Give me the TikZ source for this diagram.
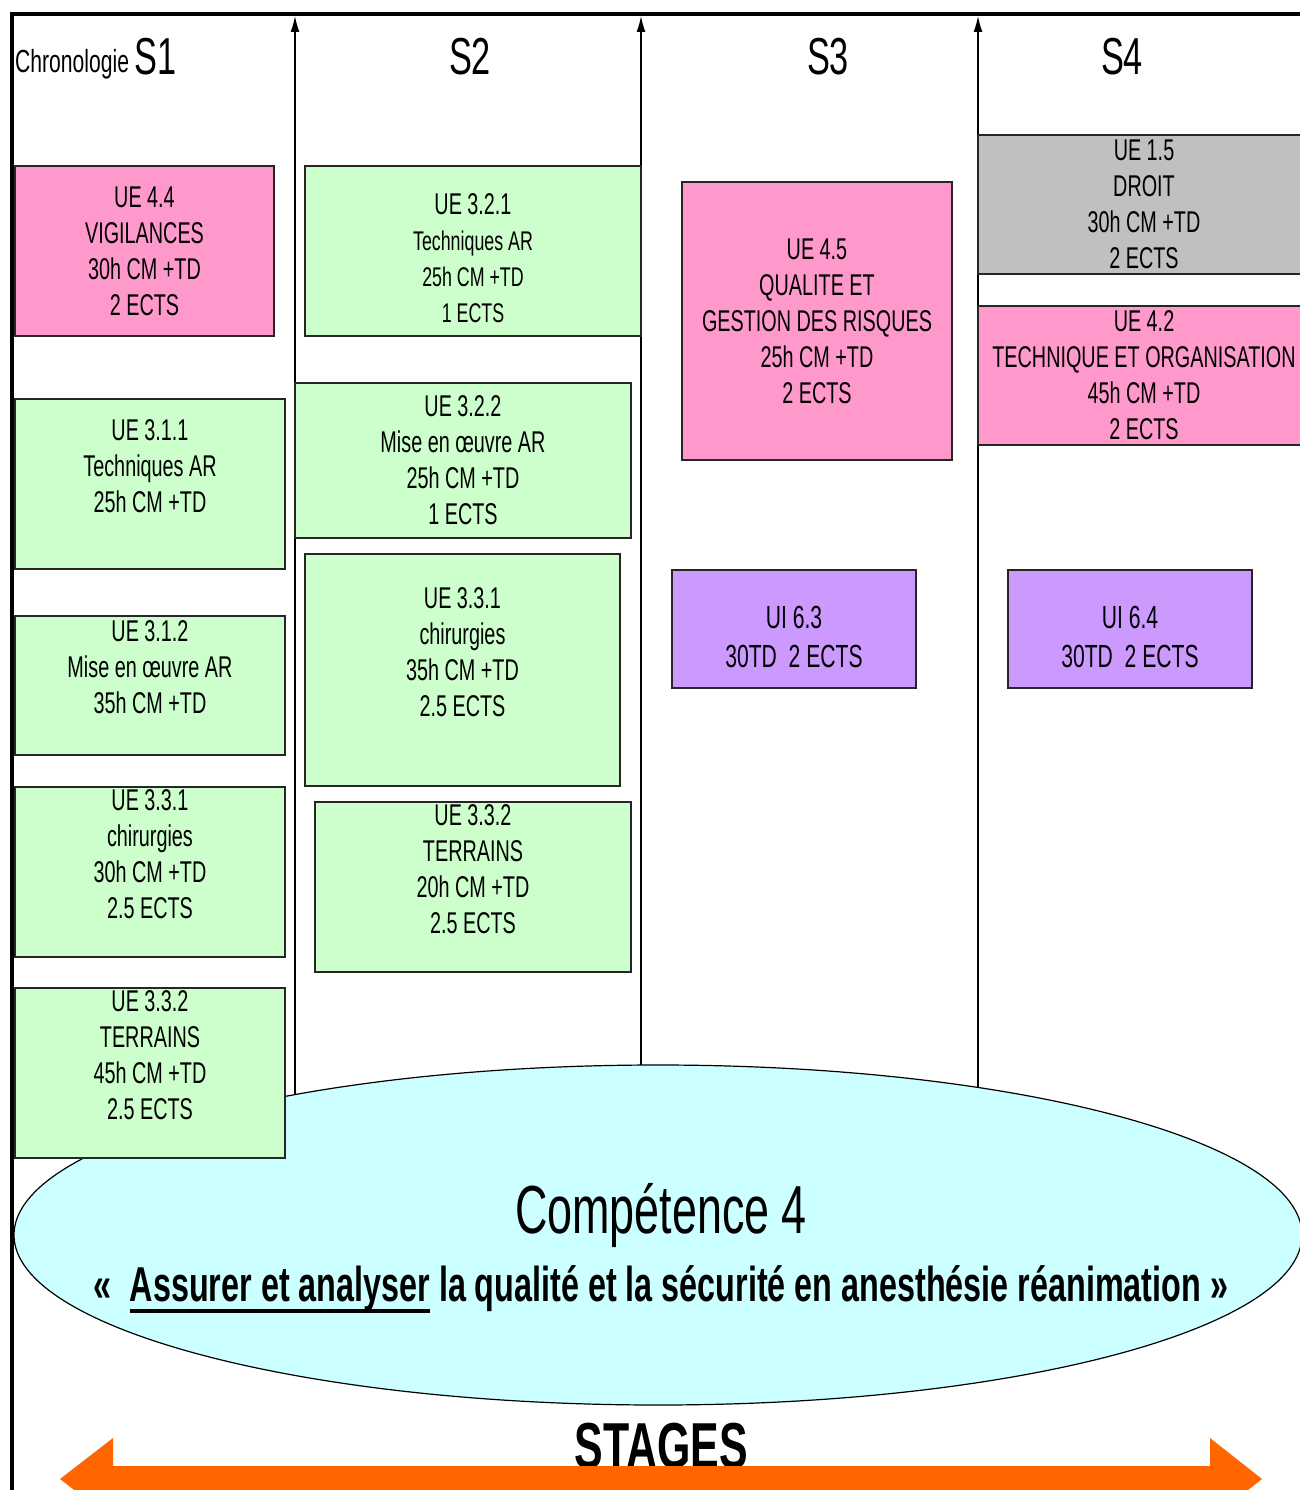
\documentclass[tikz,border=0pt]{standalone}
\usepackage{fontspec}
\setmainfont{Liberation Sans}[FakeStretch=0.66]
\usetikzlibrary{arrows.meta}
\definecolor{uepink}{HTML}{FF99CC}
\definecolor{uegreen}{HTML}{CCFFCC}
\definecolor{uegray}{HTML}{C0C0C0}
\definecolor{uipurple}{HTML}{CC99FF}
\definecolor{compcyan}{HTML}{CCFFFF}
\definecolor{stageorange}{HTML}{FF6600}
\newcommand{\thickul}[1]{\leavevmode\vtop{\hbox{#1}\kern-3pt\hrule height 4pt}}
\tikzset{
  ue/.style={
    draw=black!85,
    line width=1.2pt,
    align=center,
    inner sep=0pt,
    font=\fontsize{30}{36}\selectfont
  },
  pinkbox/.style={ue, fill=uepink},
  greenbox/.style={ue, fill=uegreen},
  graybox/.style={ue, fill=uegray},
  uibox/.style={ue, fill=uipurple, font=\fontsize{32}{39}\selectfont},
  semester/.style={anchor=base, inner sep=0pt, font=\fontsize{52}{56}\selectfont},
  sep/.style={-{Latex[length=16pt,width=9pt]}, line width=1.4pt},
  frame/.style={line width=4pt, line cap=rect},
  comptxt/.style={align=center, inner sep=0pt, font=\fontsize{68}{68}\selectfont}
}
\begin{document}
\begin{tikzpicture}[x=1pt,y=-1pt]
\useasboundingbox (0,0) rectangle (1300,1490);
\clip (0,0) rectangle (1300,1490);

% --- semester separators
\foreach \sx/\nm in {295/a,641/b,978/c}{
  \coordinate (low\nm) at (\sx,1150);
  \coordinate (top\nm) at (\sx,16);
  \draw[sep] (low\nm) -- (top\nm);
}

% --- competence ellipse
\path[draw, line width=1.2pt, fill=compcyan] (658,1235) ellipse [x radius=644, y radius=170];
\node[comptxt] (comp4) at (661,1248) {Compétence 4\\
{\fontsize{49}{68}\selectfont\bfseries «\ \ \thickul{Assurer et analyser} la qualité et la sécurité en anesthésie réanimation »}};

% --- headers
\node[anchor=base west, inner sep=0pt, font=\fontsize{32}{34}\selectfont] (chrono) at (15,73) {Chronologie};
\node[semester, anchor=base west] (s1) at (134,75) {S1};
\node[semester] (s2) at (470,75) {S2};
\node[semester] (s3) at (828,75) {S3};
\node[semester] (s4) at (1122,75) {S4};

% --- S1
\node[pinkbox, minimum width=259, minimum height=170] (ue44) at (144.5,251) {UE 4.4\\VIGILANCES\\30h CM +TD\\2 ECTS};
\node[greenbox, minimum width=270, minimum height=170] (ue311) at (150,484) {UE 3.1.1\\Techniques AR\\25h CM +TD\\\mbox{}};
\node[greenbox, minimum width=270, minimum height=139] (ue312) at (150,685.5) {UE 3.1.2\\Mise en œuvre AR\\35h CM +TD\\\mbox{}};
\node[greenbox, minimum width=270, minimum height=170] (ue331a) at (150,872) {UE 3.3.1\\chirurgies\\30h CM +TD\\2.5 ECTS\\\mbox{}};
\node[greenbox, minimum width=270, minimum height=170] (ue332a) at (150,1073) {UE 3.3.2\\TERRAINS\\45h CM +TD\\2.5 ECTS\\\mbox{}};

% --- S2
\node[greenbox, minimum width=336, minimum height=170] (ue321) at (473,251) {\mbox{}\\UE 3.2.1\\{\fontsize{27}{33}\selectfont Techniques AR}\\{\fontsize{27}{33}\selectfont 25h CM +TD}\\{\fontsize{27}{33}\selectfont 1 ECTS}};
\node[greenbox, minimum width=336, minimum height=155] (ue322) at (463,460.5) {UE 3.2.2\\Mise en œuvre AR\\25h CM +TD\\1 ECTS};
\node[greenbox, minimum width=315, minimum height=232] (ue331b) at (462.5,670) {UE 3.3.1\\chirurgies\\35h CM +TD\\2.5 ECTS\\\mbox{}};
\node[greenbox, minimum width=316, minimum height=170] (ue332b) at (473,887) {UE 3.3.2\\TERRAINS\\20h CM +TD\\2.5 ECTS\\\mbox{}};

% --- S3
\node[pinkbox, minimum width=270, minimum height=278] (ue45) at (817,321) {UE 4.5\\QUALITE ET\\GESTION DES RISQUES\\25h CM +TD\\2 ECTS};
\node[uibox, minimum width=244, minimum height=118] (ui63) at (794,629) {\mbox{}\\UI 6.3\\30TD\ \ 2 ECTS};

% --- S4
\node[graybox, minimum width=332, minimum height=139] (ue15) at (1144,204.5) {UE 1.5\\DROIT\\30h CM +TD\\2 ECTS};
\node[pinkbox, minimum width=332, minimum height=139] (ue42) at (1144,375.5) {UE 4.2\\TECHNIQUE ET ORGANISATION\\45h CM +TD\\2 ECTS};
\node[uibox, minimum width=244, minimum height=118] (ui64) at (1130,629) {\mbox{}\\UI 6.4\\30TD\ \ 2 ECTS};

% --- frame
\coordinate (tl) at (12,14);
\coordinate (tr) at (1300,14);
\coordinate (bl) at (12,1490);
\draw[frame] (tr) -- (tl) -- (bl);

% --- stages
\node[anchor=base, inner sep=0pt, font=\fontsize{65}{68}\selectfont\bfseries] (stages) at (661,1468) {STAGES};
\fill[stageorange] (60,1479) -- (113,1438) -- (113,1466) -- (1210,1466) -- (1210,1438) -- (1262,1479)
  -- (1210,1520) -- (1210,1492) -- (113,1492) -- (113,1520) -- cycle;

\end{tikzpicture}
\end{document}
